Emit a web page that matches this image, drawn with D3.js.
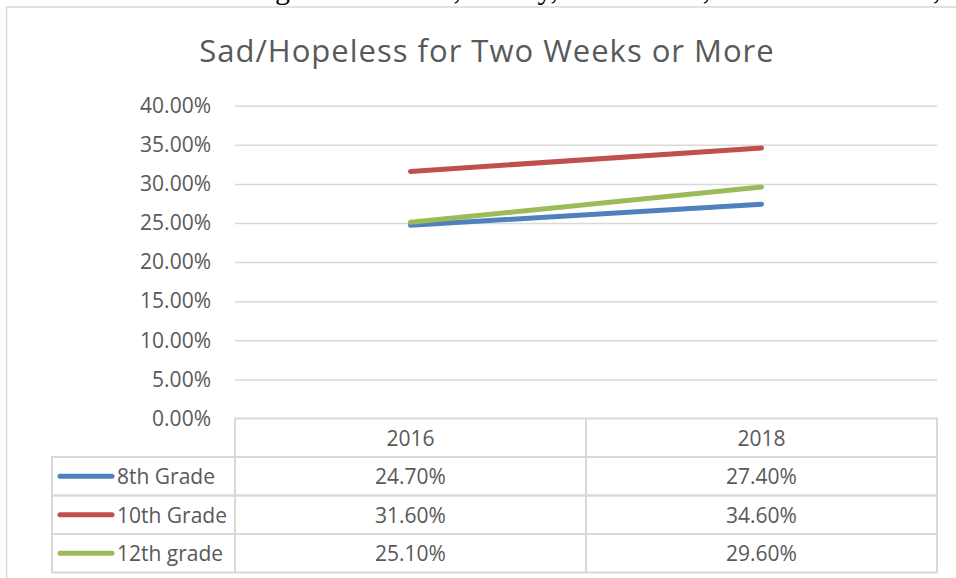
<!DOCTYPE html>
<html>
<head>
<meta charset="utf-8">
<script src="https://cdn.jsdelivr.net/npm/d3@7"></script>
<style>
  body { margin: 0; background: #fff; }
  svg { display: block; }
</style>
</head>
<body>
<div class="canva"></div>
<script>
// data
const years = ['2016', '2018'];
const grades = ['8th Grade', '10th Grade', '12th grade'];
const grade8 = [24.7, 27.4];
const grade10 = [31.6, 34.6];
const grade12 = [25.1, 29.6];
const yTicks = [0, 5, 10, 15, 20, 25, 30, 35, 40];
const colors = ['#4f81bd', '#c0504d', '#9bbb59'];
const series = [grade8, grade10, grade12];

const W = 956, H = 578;
const svg = d3.select('.canva').append('svg')
    .attr('width', W)
    .attr('height', H);

// bit of the document text cut off above the chart
svg.append('text')
    .attr('x', 4)
    .attr('y', -1)
    .attr('font-family', 'Liberation Serif')
    .attr('font-size', 30)
    .attr('word-spacing', 4)
    .attr('fill', '#000')
    .text('based on the following scale: Never, Rarely, Sometimes, Most of the time, Always');

// chart frame
svg.append('rect')
    .attr('x', 6.5)
    .attr('y', 7)
    .attr('width', 1000)
    .attr('height', 700)
    .attr('fill', '#fff')
    .attr('stroke', '#d9d9d9')
    .attr('stroke-width', 1.5);

const font = 'Open Sans, Noto Sans, sans-serif';
const textCol = '#595959';

svg.append('text')
    .attr('x', 487)
    .attr('y', 62)
    .attr('text-anchor', 'middle')
    .attr('font-family', font)
    .attr('font-size', 31)
    .attr('letter-spacing', 1)
    .attr('fill', textCol)
    .text('Sad/Hopeless for Two Weeks or More');

const plot = {left: 235, right: 937, top: 105.7, bottom: 418.5};

const x = d3.scaleBand()
    .domain(years)
    .range([plot.left, plot.right]);

const y = d3.scaleLinear()
    .domain([0, 40])
    .range([plot.bottom, plot.top]);

// y axis + gridlines
const yAxis = d3.axisLeft(y)
    .tickValues(yTicks)
    .tickSize(-(plot.right - plot.left))
    .tickPadding(24)
    .tickFormat(d => d.toFixed(2) + '%');

const gy = svg.append('g')
    .attr('transform', `translate(${plot.left},0)`)
    .call(yAxis);
gy.select('.domain').remove();
gy.selectAll('.tick line')
    .attr('stroke', '#d9d9d9')
    .attr('stroke-width', 1.5);
gy.selectAll('.tick text')
    .attr('font-family', font)
    .attr('font-size', 21)
    .attr('fill', textCol);
// 0 line is the table top, hide its tick line
gy.selectAll('.tick').filter(d => d === 0).select('line').remove();

// lines
const line = d3.line()
    .x((d, i) => x(years[i]) + x.bandwidth() / 2)
    .y(d => y(d));

svg.selectAll('.series')
    .data(series)
    .enter().append('path')
    .attr('class', 'series')
    .attr('d', line)
    .attr('fill', 'none')
    .attr('stroke', (d, i) => colors[i])
    .attr('stroke-width', 5)
    .attr('stroke-linecap', 'round');

// data table
const rowH = 38.5;
const legendLeft = 52;
const rowY = d3.scaleBand()
    .domain(['head'].concat(grades))
    .range([plot.bottom, plot.bottom + rowH * 4]);

const table = svg.append('g');
const gridStyle = sel => sel.attr('stroke', '#d9d9d9').attr('stroke-width', 2).attr('fill', 'none');

// header row box
table.append('rect')
    .attr('x', plot.left).attr('y', rowY('head'))
    .attr('width', plot.right - plot.left).attr('height', rowH)
    .call(gridStyle);
// body rows
grades.forEach(g => {
    table.append('rect')
        .attr('x', legendLeft).attr('y', rowY(g))
        .attr('width', plot.right - legendLeft).attr('height', rowH)
        .call(gridStyle);
});
// column dividers
years.forEach(yr => {
    table.append('line')
        .attr('x1', x(yr) + x.bandwidth()).attr('x2', x(yr) + x.bandwidth())
        .attr('y1', rowY('head')).attr('y2', rowY('head') + rowH * 4)
        .call(gridStyle);
});
table.append('line')
    .attr('x1', plot.left).attr('x2', plot.left)
    .attr('y1', rowY('head')).attr('y2', rowY('head') + rowH * 4)
    .call(gridStyle);

const cellText = (sel) => sel
    .attr('font-family', font)
    .attr('font-size', 21)
    .attr('fill', textCol)
    .attr('dominant-baseline', 'central');

years.forEach(yr => {
    table.append('text')
        .attr('x', x(yr) + x.bandwidth() / 2)
        .attr('y', rowY('head') + rowH / 2)
        .attr('text-anchor', 'middle')
        .call(cellText)
        .text(yr);
});

grades.forEach((g, gi) => {
    const cy = rowY(g) + rowH / 2;
    table.append('line')
        .attr('x1', 60).attr('x2', 112)
        .attr('y1', cy).attr('y2', cy)
        .attr('stroke', colors[gi])
        .attr('stroke-width', 5)
        .attr('stroke-linecap', 'round');
    table.append('text')
        .attr('x', 117)
        .attr('y', cy)
        .call(cellText)
        .text(g);
    series[gi].forEach((v, i) => {
        table.append('text')
            .attr('x', x(years[i]) + x.bandwidth() / 2)
            .attr('y', cy)
            .attr('text-anchor', 'middle')
            .call(cellText)
            .text(v.toFixed(2) + '%');
    });
});
</script>
</body>
</html>
